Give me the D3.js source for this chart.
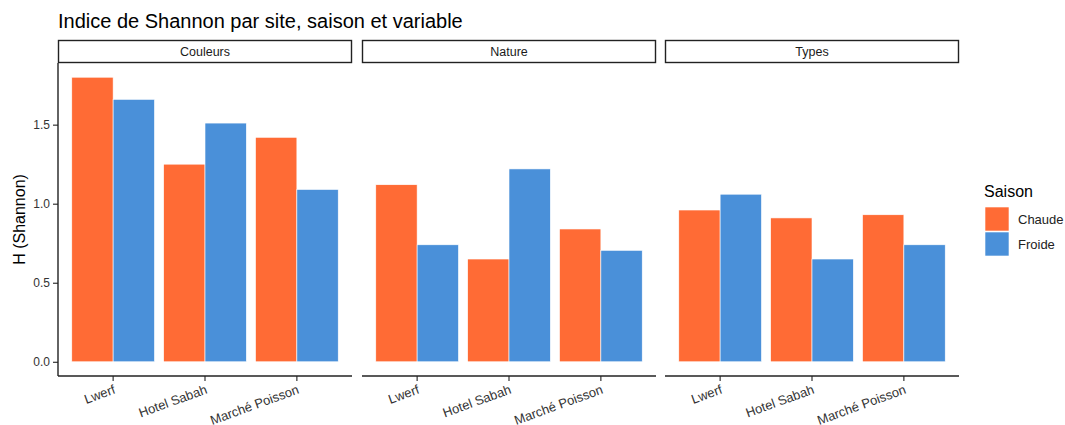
<!DOCTYPE html>
<meta charset="utf-8">
<head>
  <meta charset="UTF-8" />
  <title>Shannon</title>
  <script src="https://d3js.org/d3.v7.min.js"></script>
  <style>
    body { margin: 0; background: #fff; }
    text { font-family: "Liberation Sans", Arial, sans-serif; }
  </style>
</head>
<body>
<div id="my_dataviz"></div>

<script>
  // data
  var variables = ["Couleurs", "Nature", "Types"]
  var sites = ["Lwerf", "Hotel Sabah", "Marché Poisson"]
  var saisons = ["Chaude", "Froide"]
  var chaude = [
    [1.80, 1.25, 1.42],   // Couleurs
    [1.12, 0.65, 0.84],   // Nature
    [0.96, 0.91, 0.93]    // Types
  ]
  var froide = [
    [1.66, 1.51, 1.09],
    [0.74, 1.22, 0.705],
    [1.06, 0.65, 0.74]
  ]
  var yTicks = [0, 0.5, 1, 1.5]
  var colors = {"Chaude": "#FF6B35", "Froide": "#4A90D9"}

  var width = 1065, height = 425
  var panelLeft = [58, 362, 665], panelW = 294
  var plotTop = 63, plotBottom = 376

  var svg = d3.select("#my_dataviz")
    .append("svg")
      .attr("width", width)
      .attr("height", height)

  var rows = []
  variables.forEach((v, i) => {
    sites.forEach((s, j) => {
      rows.push({variable: v, site: s, saison: "Chaude", value: chaude[i][j]})
      rows.push({variable: v, site: s, saison: "Froide", value: froide[i][j]})
    })
  })

  var ymax = d3.max(rows, d => d.value)
  var y = d3.scaleLinear()
    .domain([-0.05 * ymax, ymax * 1.05])
    .range([plotBottom, plotTop])

  // title
  svg.append("text")
    .attr("x", 58).attr("y", 28)
    .style("font-size", "20px")
    .style("fill", "#000")
    .text("Indice de Shannon par site, saison et variable")

  // y axis title
  svg.append("text")
    .attr("transform", "translate(25," + ((plotTop + plotBottom) / 2) + ") rotate(-90)")
    .attr("text-anchor", "middle")
    .style("font-size", "16px")
    .text("H (Shannon)")

  variables.forEach((v, i) => {
    var g = svg.append("g").attr("transform", "translate(" + panelLeft[i] + ",0)")

    // strip
    g.append("rect")
      .attr("x", 0.5).attr("y", 40.5)
      .attr("width", panelW - 1).attr("height", 22)
      .attr("fill", "#fff")
      .attr("stroke", "#222")
      .attr("stroke-width", 1.4)
    g.append("text")
      .attr("x", panelW / 2).attr("y", 56)
      .attr("text-anchor", "middle")
      .style("font-size", "12.5px")
      .style("fill", "#1a1a1a")
      .text(v)

    // discrete x with ggplot style 0.6 expansion
    var xs = d3.scaleLinear().domain([0.4, 3.6]).range([0, panelW])
    var bw = (xs(1.9) - xs(1)) / 2
    var x1 = d3.scaleBand().domain(saisons).range([-bw, bw])

    var data = rows.filter(d => d.variable == v)
    g.selectAll("rect.bar")
      .data(data)
      .join("rect")
        .attr("class", "bar")
        .attr("x", d => xs(sites.indexOf(d.site) + 1) + x1(d.saison))
        .attr("width", x1.bandwidth())
        .attr("y", d => y(d.value))
        .attr("height", d => y(0) - y(d.value))
        .attr("fill", d => colors[d.saison])
        .attr("stroke", "#fff")
        .attr("stroke-width", 0.6)

    // bottom axis
    g.append("line")
      .attr("x1", 0).attr("x2", panelW)
      .attr("y1", plotBottom).attr("y2", plotBottom)
      .attr("stroke", "#222").attr("stroke-width", 1.4)
    sites.forEach((s, j) => {
      var xp = xs(j + 1)
      g.append("line")
        .attr("x1", xp).attr("x2", xp)
        .attr("y1", plotBottom).attr("y2", plotBottom + 5)
        .attr("stroke", "#222").attr("stroke-width", 1.1)
      g.append("text")
        .attr("transform", "translate(" + (xp + 3) + "," + (plotBottom + 17) + ") rotate(-20)")
        .attr("text-anchor", "end")
        .style("font-size", "13px")
        .style("fill", "#333")
        .text(s)
    })

    // y axis only on first panel
    if (i == 0) {
      var yAxis = d3.axisLeft(y).tickValues(yTicks).tickSize(5).tickPadding(3)
        .tickFormat(d3.format(".1f"))
      var ga = g.append("g").call(yAxis)
      ga.select(".domain").remove()
      ga.append("line")
        .attr("x1", 0).attr("x2", 0)
        .attr("y1", plotTop).attr("y2", plotBottom)
        .attr("stroke", "#222").attr("stroke-width", 1.4)
      ga.selectAll(".tick line").attr("stroke", "#222").attr("stroke-width", 1.1)
      ga.selectAll(".tick text")
        .style("font-size", "12px")
        .style("fill", "#333")
        .style("font-family", "'Liberation Sans', Arial, sans-serif")
    }
  })

  // legend
  var leg = svg.append("g").attr("transform", "translate(984,0)")
  leg.append("text")
    .attr("x", 0).attr("y", 197)
    .style("font-size", "16px")
    .text("Saison")
  saisons.forEach((s, k) => {
    leg.append("rect")
      .attr("x", 1).attr("y", 207 + k * 25)
      .attr("width", 24).attr("height", 24)
      .attr("fill", colors[s])
      .attr("stroke", "#fff").attr("stroke-width", 0.6)
    leg.append("text")
      .attr("x", 34).attr("y", 224 + k * 25)
      .style("font-size", "13px")
      .style("fill", "#222")
      .text(s)
  })
</script>
</body>
